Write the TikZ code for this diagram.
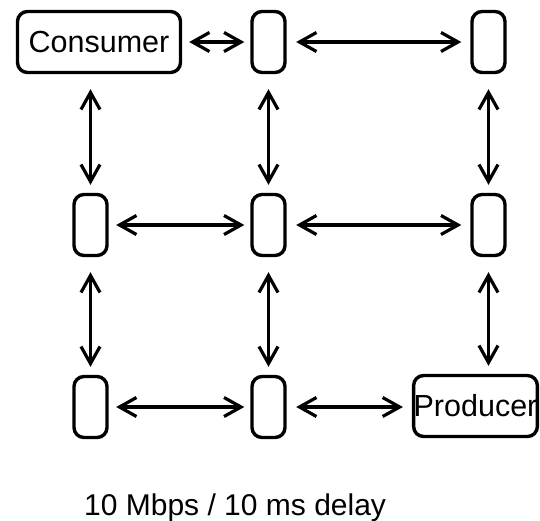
\documentclass[tikz,border=0pt]{standalone}
\usepackage{fontspec}
\setmainfont{Liberation Sans}
\usetikzlibrary{arrows.meta}
\tikzset{
  box/.style={draw, line width=3.4pt, rounded corners=10pt, inner sep=0pt,
    minimum height=61pt, font=\fontsize{30.5}{36}\selectfont},
  relay/.style={box, minimum width=33pt},
  arr/.style={line width=3.2pt, {Straight Barb[length=17pt,width=19pt]}-{Straight Barb[length=17pt,width=19pt]}},
  harr/.style={arr, shorten <=8pt, shorten >=7pt},
  varr/.style={arr, shorten <=15pt, shorten >=8pt},
  lbl/.style={inner sep=0pt, anchor=base west, font=\fontsize{30}{36}\selectfont}
}
\begin{document}
\begin{tikzpicture}[x=1pt,y=-1pt]
\useasboundingbox (0,0) rectangle (540,520);
\node[box, minimum width=163pt] (cons) at (99,42) {Consumer};
\node[relay] (n12) at (268.5,42) {};
\node[relay] (n13) at (488.5,42) {};
\node[relay] (n21) at (90.5,225) {};
\node[relay] (n22) at (268.5,225) {};
\node[relay] (n23) at (488.5,225) {};
\node[relay] (n31) at (90.5,407) {};
\node[relay] (n32) at (268.5,407) {};
\node[box, minimum width=121pt] (prod) at (475.5,406) {Producer};
\node[lbl] (cap) at (84,515) {10 Mbps / 10 ms delay};
% horizontal
\draw[arr, shorten <=7pt, shorten >=6pt] (cons.east |- n12) -- (n12.west);
\draw[harr, shorten <=9.5pt, shorten >=9pt] (n12.east) -- (n13.west);
\draw[arr, shorten <=7.5pt, shorten >=6pt] (n21.east) -- (n22.west);
\draw[harr, shorten <=9.5pt, shorten >=9pt] (n22.east) -- (n23.west);
\draw[arr, shorten <=7.5pt, shorten >=6pt] (n31.east) -- (n32.west);
\draw[harr, shorten <=9.5pt, shorten >=9pt] (n32.east) -- (prod.west |- n32);
% vertical
\draw[varr] (n21 |- cons.south) -- (n21.north);
\draw[varr] (n12.south) -- (n22.north);
\draw[varr] (n13.south) -- (n23.north);
\draw[varr] (n21.south) -- (n31.north);
\draw[varr] (n22.south) -- (n32.north);
\draw[varr] (n23.south) -- (n23 |- prod.north);
\end{tikzpicture}
\end{document}
